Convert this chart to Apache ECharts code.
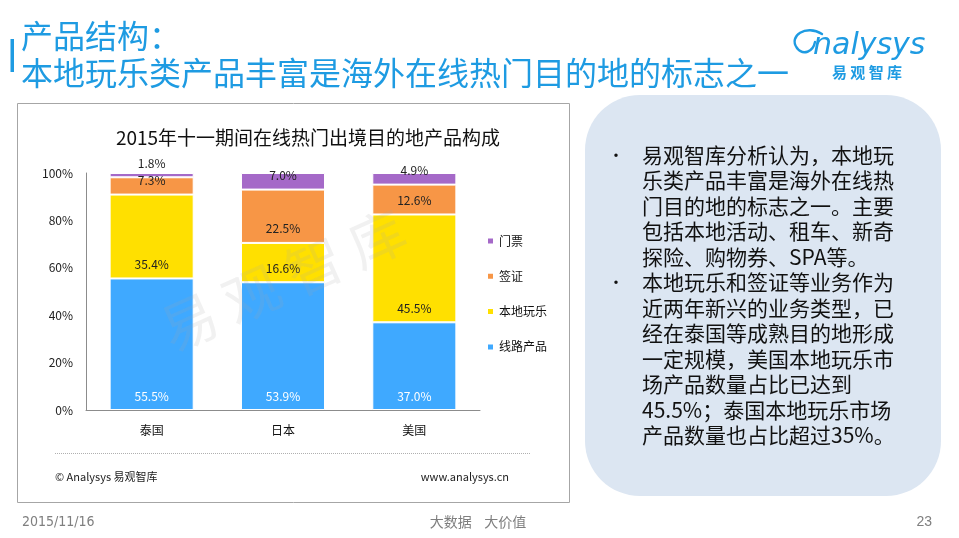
<!DOCTYPE html>
<html>
<head>
<meta charset="utf-8">
<script src="https://cdn.jsdelivr.net/npm/echarts@6/dist/echarts.min.js"></script>
<style>
html,body{margin:0;padding:0;background:#fff;}
#c{width:959px;height:538px;}
</style>
</head>
<body>
<div id="c"></div>
<script>
const categories = ['泰国', '日本', '美国'];
const seriesNames = ['线路产品', '本地玩乐', '签证', '门票'];
const lineProducts = [55.5, 53.9, 37.0];
const localFun = [35.4, 16.6, 45.5];
const visa = [7.3, 22.5, 12.6];
const tickets = [1.8, 7.0, 4.9];
const yTicks = [0, 20, 40, 60, 80, 100];
const seriesColors = ['#3FA9FF', '#FFE000', '#F79646', '#A569C8'];
const labelColors = ['#ffffff', '#222222', '#222222', '#222222'];

const chartTitle = '2015年十一期间在线热门出境目的地产品构成';
const slideTitle1 = '产品结构：';
const slideTitle2 = '本地玩乐类产品丰富是海外在线热门目的地的标志之一';
const bulletLines1 = ['易观智库分析认为，本地玩', '乐类产品丰富是海外在线热', '门目的地的标志之一。主要', '包括本地活动、租车、新奇', '探险、购物券、SPA等。'];
const bulletLines2 = ['本地玩乐和签证等业务作为', '近两年新兴的业务类型，已', '经在泰国等成熟目的地形成', '一定规模，美国本地玩乐市', '场产品数量占比已达到', '45.5%；泰国本地玩乐市场', '产品数量也占比超过35%。'];

const values = [lineProducts, localFun, visa, tickets];
const CJK = '"Noto Sans CJK SC", "Noto Sans", sans-serif';

const chart = echarts.init(document.getElementById('c'));

const series = seriesNames.map((name, i) => ({
  name: name,
  type: 'bar',
  stack: 'total',
  barWidth: '64%',
  data: values[i],
  itemStyle: { color: seriesColors[i], borderColor: '#fff', borderWidth: 1 },
  label: {
    show: true,
    position: 'insideBottom',
    distance: 8,
    formatter: p => p.value.toFixed(1) + '%',
    color: labelColors[i],
    fontSize: 12,
    fontFamily: CJK
  },
  emphasis: { disabled: true }
}));

const allLines = bulletLines1.concat(bulletLines2);
const lineH = 25.5;
const textTop = 142;

chart.setOption({
  animation: false,
  backgroundColor: '#fff',
  grid: { left: 86, right: 479, top: 173, bottom: 128, containLabel: false },
  xAxis: {
    type: 'category',
    data: categories,
    axisLine: { lineStyle: { color: '#8c8c8c', width: 1 } },
    axisTick: { show: false },
    axisLabel: { color: '#111', fontSize: 12, margin: 14, fontFamily: CJK }
  },
  yAxis: {
    type: 'value',
    min: yTicks[0],
    max: yTicks[yTicks.length - 1],
    interval: yTicks[1] - yTicks[0],
    axisLine: { show: true, lineStyle: { color: '#8c8c8c', width: 1 } },
    axisTick: { show: false },
    splitLine: { show: false },
    axisLabel: { color: '#222', fontSize: 12, margin: 13, formatter: '{value}%', fontFamily: CJK }
  },
  legend: {
    orient: 'vertical',
    left: 486,
    top: 234,
    padding: 0,
    itemWidth: 7,
    itemHeight: 7,
    itemGap: 21.3,
    icon: 'rect',
    data: seriesNames.slice().reverse(),
    textStyle: { fontSize: 12, color: '#111', lineHeight: 14, fontFamily: CJK }
  },
  series: series,
  graphic: [
    // chart frame
    { type: 'rect', z: -10, shape: { x: 17.5, y: 103.5, width: 552, height: 399 }, style: { fill: '#fff', stroke: '#a6a6a6', lineWidth: 1 } },
    // watermark (over the bars)
    { type: 'text', z: 100, silent: true, x: 283, y: 280, rotation: 0.42, style: { text: '易 观 智 库', fontSize: 56, fill: 'rgba(170,170,170,0.16)', align: 'center', verticalAlign: 'middle', fontFamily: CJK } },
    // chart title
    { type: 'text', x: 308, y: 138, style: { text: chartTitle, fontSize: 19, fill: '#111', align: 'center', verticalAlign: 'middle', fontFamily: CJK } },
    // dotted line + footer
    { type: 'line', shape: { x1: 55, y1: 453.5, x2: 531, y2: 453.5 }, style: { stroke: '#b0b0b0', lineWidth: 1, lineDash: [1, 1] } },
    { type: 'text', x: 55, y: 477, style: { text: '© Analysys 易观智库', fontSize: 11, fill: '#222', verticalAlign: 'middle', fontFamily: CJK } },
    { type: 'text', x: 509, y: 477, style: { text: 'www.analysys.cn', fontSize: 11, fill: '#222', align: 'right', verticalAlign: 'middle', fontFamily: CJK } },
    // slide title
    { type: 'rect', shape: { x: 10.5, y: 39, width: 3.5, height: 33 }, style: { fill: '#1E9BE2' } },
    { type: 'text', x: 21, y: 36, style: { text: slideTitle1, fontSize: 32, fill: '#1E9BE2', verticalAlign: 'middle', fontFamily: CJK } },
    { type: 'text', x: 21, y: 73, style: { text: slideTitle2, fontSize: 32, fill: '#1E9BE2', verticalAlign: 'middle', fontFamily: CJK } },
    // logo
    { type: 'bezierCurve', shape: { x1: 822, y1: 34, cpx1: 806, cpy1: 24, cpx2: 788, cpy2: 36, x2: 797, y2: 48 }, style: { stroke: '#1E9BE2', lineWidth: 2.4, fill: null, lineCap: 'round' } },
    { type: 'bezierCurve', shape: { x1: 797, y1: 48, cpx1: 803, cpy1: 56, cpx2: 813, cpy2: 52, x2: 815, y2: 42 }, style: { stroke: '#1E9BE2', lineWidth: 2.4, fill: null, lineCap: 'round' } },
    { type: 'text', x: 813, y: 46, style: { text: 'nalysys', fontSize: 30, fontStyle: 'italic', fill: '#1E9BE2', verticalAlign: 'middle', fontFamily: '"DejaVu Sans", sans-serif' } },
    { type: 'text', x: 867, y: 72, style: { text: '易 观 智 库', fontSize: 15, fontWeight: 'bold', fill: '#1E9BE2', align: 'center', verticalAlign: 'middle', fontFamily: CJK } },
    // right panel
    { type: 'rect', z: -10, shape: { x: 585, y: 95, width: 356, height: 401, r: 55 }, style: { fill: '#DCE6F2' } },
    { type: 'text', x: 642, y: textTop, style: { text: allLines.join('\n'), fontSize: 21, lineHeight: lineH, fill: '#111', fontFamily: CJK } },
    { type: 'text', x: 616, y: textTop + lineH / 2, style: { text: '•', fontSize: 16, fill: '#111', align: 'center', verticalAlign: 'middle', fontFamily: CJK } },
    { type: 'text', x: 616, y: textTop + lineH * bulletLines1.length + lineH / 2, style: { text: '•', fontSize: 16, fill: '#111', align: 'center', verticalAlign: 'middle', fontFamily: CJK } },
    // slide footer
    { type: 'text', x: 22, y: 522, style: { text: '2015/11/16', fontSize: 14, fill: '#7f7f7f', verticalAlign: 'middle', fontFamily: '"Liberation Sans Narrow", "DejaVu Sans Condensed", sans-serif' } },
    { type: 'text', x: 478, y: 522, style: { text: '大数据    大价值', fontSize: 14, fill: '#7f7f7f', align: 'center', verticalAlign: 'middle', fontFamily: CJK } },
    { type: 'text', x: 932, y: 522, style: { text: '23', fontSize: 14, fill: '#7f7f7f', align: 'right', verticalAlign: 'middle', fontFamily: '"Liberation Sans Narrow", sans-serif' } }
  ]
});
</script>
</body>
</html>
